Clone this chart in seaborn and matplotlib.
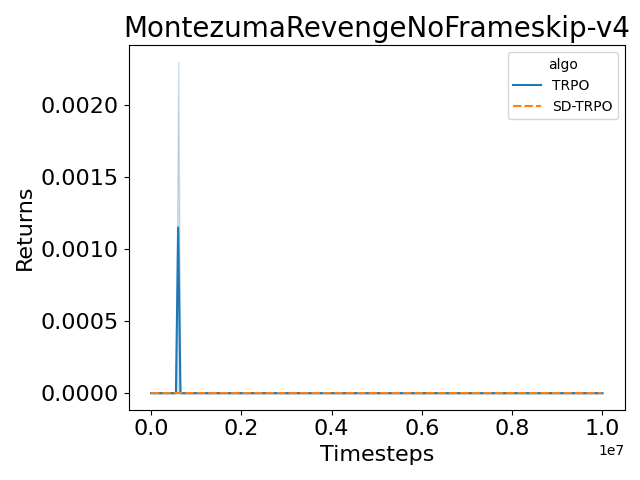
import matplotlib
matplotlib.use("Agg")
import matplotlib.pyplot as plt
import seaborn as sns
import numpy as np
import pandas as pd

# evaluation grid, every 50k steps up to 1e7
timesteps = np.arange(0, 10_000_001, 50_000)
seeds = [0, 1]
# TRPO only ever scored once: seed 0 at 600k steps
trpo_spike_step = 600_000
trpo_spike_seed0 = 0.0023
trpo_spike_seed1 = 0.0
sdtrpo_value = 0.0

rows = []
for s in seeds:
    for t in timesteps:
        r = 0.0
        if t == trpo_spike_step:
            r = trpo_spike_seed0 if s == 0 else trpo_spike_seed1
        rows.append({'Timesteps': t, 'Returns': r, 'algo': 'TRPO', 'seed': s})
        rows.append({'Timesteps': t, 'Returns': sdtrpo_value, 'algo': 'SD-TRPO', 'seed': s})
df = pd.DataFrame(rows)

fig, ax = plt.subplots(figsize=(6.4, 4.8), dpi=100)
sns.lineplot(data=df, x='Timesteps', y='Returns', hue='algo', style='algo', ax=ax)
ax.set_title('MontezumaRevengeNoFrameskip-v4', fontsize=20)
ax.set_xlabel('Timesteps', fontsize=16)
ax.set_ylabel('Returns', fontsize=16)
ax.tick_params(labelsize=16)
ax.xaxis.get_offset_text().set_fontsize(10)
plt.tight_layout()
plt.savefig('out.png')
